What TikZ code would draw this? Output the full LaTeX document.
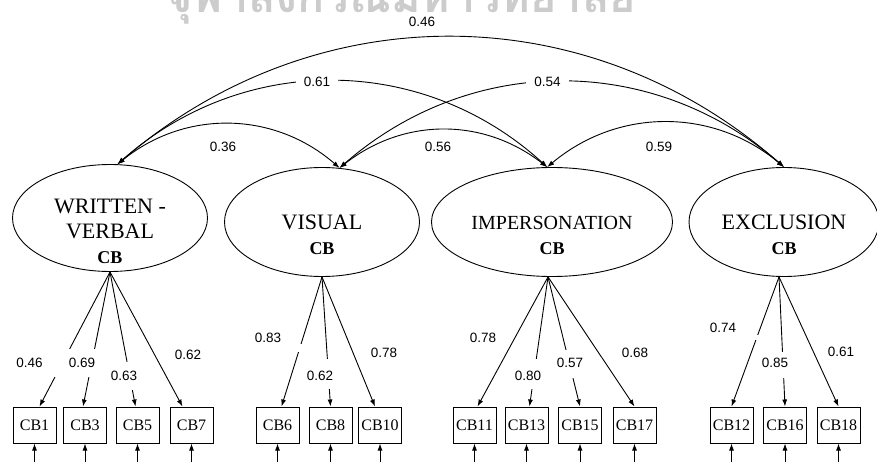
\documentclass[tikz,border=0pt]{standalone}
\usepackage{fontspec}
\setmainfont{Liberation Serif}
\newfontfamily\coeffont{Liberation Sans}
\newfontfamily\thaifont[Script=Thai]{Loma}
\usetikzlibrary{shapes.geometric}
\usetikzlibrary{arrows.meta}

\begin{document}
\begin{tikzpicture}[x=1pt,y=1pt,
    latent/.style={draw, ellipse, line width=0.9pt, inner sep=0pt},
    ltext/.style={align=center, font=\fontsize{22}{25}\selectfont},
    obs/.style={draw, rectangle, line width=1pt, minimum width=43pt, minimum height=36pt, inner sep=0pt, font=\fontsize{16}{18}\selectfont},
    coef/.style={font=\coeffont\fontsize{13.5}{15}\selectfont, inner sep=1pt},
    gap/.style={fill=white, inner sep=0pt, minimum width=18pt},
    load/.style={-{Latex[length=7pt,width=5pt]}, line width=0.9pt},
    cov/.style={{Latex[length=7pt,width=5pt]}-{Latex[length=7pt,width=5pt]}, line width=0.9pt},
    wmark/.style={font=\thaifont\bfseries\fontsize{45}{50}\selectfont, text=black!20, anchor=base}]
    \useasboundingbox (0,0) rectangle (877,461);
    \node[wmark] (wm) at (401,448) {จุฬาลงกรณ์มหาวิทยาลัย};

    % latent factors
    \node[latent, minimum width=195pt, minimum height=107pt] (WV) at (110,243) {};
    \node[latent, minimum width=195pt, minimum height=109pt] (VI) at (322,239) {};
    \node[latent, minimum width=241pt, minimum height=109pt] (IM) at (552,239) {};
    \node[latent, minimum width=190pt, minimum height=109pt] (EX) at (784,239) {};
    \node[ltext] (WVt) at (110,230) {WRITTEN -\\VERBAL\\{\bfseries\fontsize{18}{24}\selectfont CB}};
    \node[ltext] (VIt) at (322,226) {VISUAL\\{\bfseries\fontsize{18}{24}\selectfont CB}};
    \node[ltext] (IMt) at (552,226) {{\fontsize{20}{25}\selectfont IMPERSONATION}\\{\bfseries\fontsize{18}{24}\selectfont CB}};
    \node[ltext] (EXt) at (784,226) {EXCLUSION\\{\bfseries\fontsize{18}{24}\selectfont CB}};

    % indicators
    \node[obs] (CB1)  at (34.5,36)  {CB1};
    \node[obs] (CB3)  at (85,36)    {CB3};
    \node[obs] (CB5)  at (137.5,36) {CB5};
    \node[obs] (CB7)  at (191.5,36) {CB7};
    \node[obs] (CB6)  at (277.5,36) {CB6};
    \node[obs] (CB8)  at (330.5,36) {CB8};
    \node[obs] (CB10) at (380,36)   {CB10};
    \node[obs] (CB11) at (474.5,36) {CB11};
    \node[obs] (CB13) at (526.5,36) {CB13};
    \node[obs] (CB15) at (580,36)   {CB15};
    \node[obs] (CB17) at (634.5,36) {CB17};
    \node[obs] (CB12) at (731.5,36) {CB12};
    \node[obs] (CB16) at (785,36)   {CB16};
    \node[obs] (CB18) at (838.5,36) {CB18};

    % covariances
    \draw[cov] (WV.82) to[bend left=41] (EX.north);
    \draw[cov] (WV.82) to[bend left=42] node[coef, fill=white, inner xsep=8pt, pos=.465] (c61) {0.61} (IM.95);
    \draw[cov] (VI.72) to[bend left=41] node[coef, fill=white, inner xsep=8pt, pos=.47] (c54) {0.54} (EX.north);
    \draw[cov] (WV.82) to[bend left=40] (VI.72);
    \draw[cov] (VI.72) to[bend left=38] (IM.95);
    \draw[cov] (IM.95) to[bend left=40] (EX.north);
    \node[coef] (c46) at (422,439) {0.46};
    \node[coef] (c36) at (223,314) {0.36};
    \node[coef] (c56) at (438,314) {0.56};
    \node[coef] (c59) at (659,314) {0.59};

    % loadings
    \draw[load] (WV.south) -- node[gap, minimum height=28pt, pos=.68] (g1) {} ([xshift=5pt]CB1.north);
    \draw[load] (WV.south) -- node[gap, minimum height=28pt, pos=.68] (g3) {} ([xshift=-2pt]CB3.north);
    \draw[load] (WV.south) -- node[gap, minimum height=28pt, pos=.77] (g5) {} ([xshift=-2pt]CB5.north);
    \draw[load] (WV.south) -- ([xshift=-9pt]CB7.north);
    \draw[load] (VI.south) -- node[gap, minimum height=8pt, pos=.55] (g6) {} ([xshift=4pt]CB6.north);
    \draw[load] (VI.south) -- node[gap, minimum height=30pt, pos=.75] (g8) {} (CB8.north);
    \draw[load] (VI.south) -- ([xshift=-5pt]CB10.north);
    \draw[load] ([xshift=-4pt]IM.south) -- ([xshift=3pt]CB11.north);
    \draw[load] ([xshift=-4pt]IM.south) -- node[gap, minimum height=30pt, pos=.75] (g13) {} ([xshift=3pt]CB13.north);
    \draw[load] ([xshift=-4pt]IM.south) -- node[gap, minimum height=28pt, pos=.67] (g15) {} (CB15.north);
    \draw[load] ([xshift=-4pt]IM.south) -- (CB17.north);
    \draw[load] ([xshift=-5pt]EX.south) -- node[gap, minimum height=5pt, pos=.47] (g12) {} (CB12.north);
    \draw[load] ([xshift=-5pt]EX.south) -- node[gap, minimum height=26pt, pos=.68] (g16) {} (CB16.north);
    \draw[load] ([xshift=-5pt]EX.south) -- (CB18.north);
    \node[coef] (l1)  at (29.5,98) {0.46};
    \node[coef] (l3)  at (82,98)   {0.69};
    \node[coef] (l5)  at (124,85)  {0.63};
    \node[coef] (l7)  at (188,106) {0.62};
    \node[coef] (l6)  at (268,123) {0.83};
    \node[coef] (l8)  at (320,85)  {0.62};
    \node[coef] (l10) at (384,108) {0.78};
    \node[coef] (l11) at (483,123) {0.78};
    \node[coef] (l13) at (528,85)  {0.80};
    \node[coef] (l15) at (570,98)  {0.57};
    \node[coef] (l17) at (635,108) {0.68};
    \node[coef] (l12) at (723,133) {0.74};
    \node[coef] (l16) at (775,98)  {0.85};
    \node[coef] (l18) at (841,109) {0.61};

    % error terms
    \foreach \b in {CB1,CB3,CB5,CB7,CB6,CB8,CB10,CB11,CB13,CB15,CB17,CB12,CB16,CB18} {
      \coordinate (e\b) at ([yshift=-20pt]\b.south);
      \draw[load] (e\b) -- (\b);
    }
  \end{tikzpicture}
\end{document}
